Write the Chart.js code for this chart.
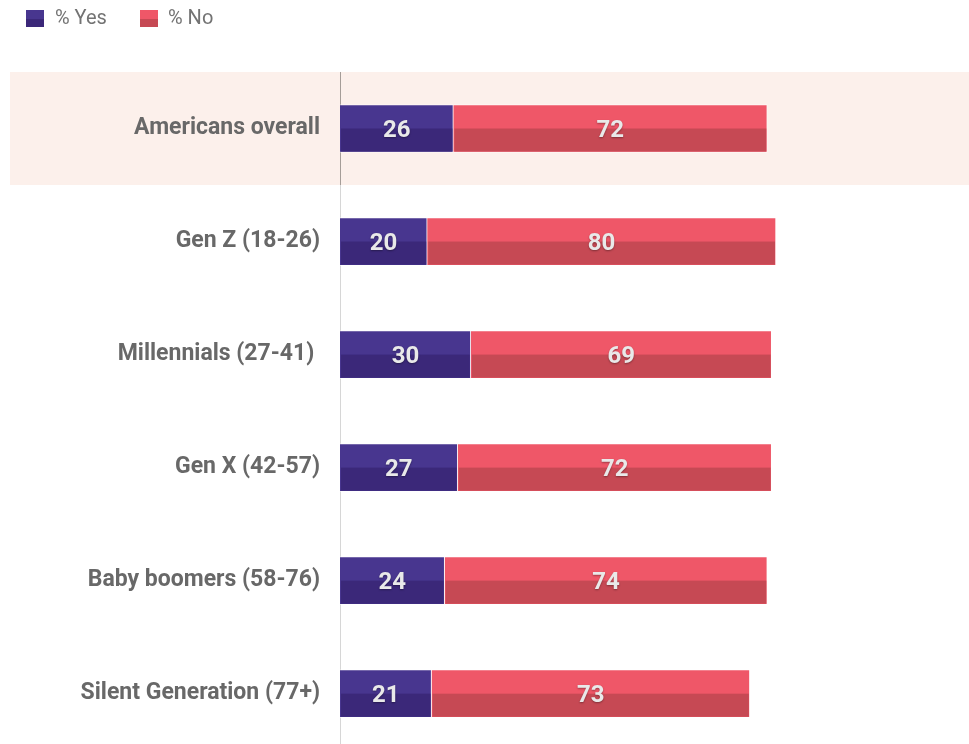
<!DOCTYPE html>
<html>
<head>
<meta charset="utf-8">
<script src="https://cdn.jsdelivr.net/npm/chart.js@4/dist/chart.umd.min.js"></script>
<style>
  html, body { margin: 0; padding: 0; background: #fff; overflow: hidden; }
  canvas { display: block; }
</style>
</head>
<body>
<canvas id="chart" width="969" height="784"></canvas>
<script>
const categories = [
  "Americans overall",
  "Gen Z (18-26)",
  "Millennials (27-41) ",
  "Gen X (42-57)",
  "Baby boomers (58-76)",
  "Silent Generation (77+)"
];
const yesValues = [26, 20, 30, 27, 24, 21];
const noValues = [72, 80, 69, 72, 74, 73];
const seriesLabels = ["% Yes", "% No"];

const topColors = ["#48368f", "#ef5768"];
const bottomColors = ["#3b2879", "#c64954"];

// highlight band behind the first row + the vertical axis line
const backdrop = {
  id: "backdrop",
  beforeDraw(chart) {
    const { ctx, chartArea } = chart;
    const y = chart.scales.y;
    const band = (chartArea.bottom - chartArea.top) / categories.length;
    const c = y.getPixelForValue(0);
    ctx.save();
    ctx.fillStyle = "#fcf0eb";
    ctx.fillRect(10, c - band / 2, chart.width - 10, band);
    ctx.fillStyle = "#a59d98";
    ctx.fillRect(chartArea.left, chartArea.top, 1, band);
    ctx.fillStyle = "#d6d6d6";
    ctx.fillRect(chartArea.left, chartArea.top + band, 1, chartArea.bottom - chartArea.top - band);
    ctx.restore();
  }
};

// darker lower half of each bar, then the value labels
const barShade = {
  id: "barShade",
  afterDatasetsDraw(chart) {
    const { ctx } = chart;
    chart.data.datasets.forEach((ds, i) => {
      const meta = chart.getDatasetMeta(i);
      meta.data.forEach((el, j) => {
        const p = el.getProps(["x", "base", "y", "height"], true);
        const left = Math.min(p.x, p.base), right = Math.max(p.x, p.base);
        ctx.save();
        ctx.fillStyle = bottomColors[i];
        ctx.fillRect(left + 1, p.y, right - left - 2, p.height / 2 - 1);
        ctx.font = "bold 24px Roboto, sans-serif";
        ctx.textAlign = "center";
        ctx.textBaseline = "middle";
        ctx.shadowColor = "rgba(0,0,0,0.35)";
        ctx.shadowBlur = 2;
        ctx.shadowOffsetY = 1;
        ctx.fillStyle = "#e9e9e9";
        ctx.fillText(String(ds.data[j]), (left + right) / 2, p.y + 2);
        ctx.restore();
      });
    });
  }
};

// legend with two-tone swatches
const topLegend = {
  id: "topLegend",
  afterDraw(chart) {
    const { ctx } = chart;
    const xs = [[26, 55], [140, 168]];
    chart.data.datasets.forEach((ds, i) => {
      const [bx, tx] = xs[i];
      ctx.save();
      ctx.fillStyle = topColors[i];
      ctx.fillRect(bx, 10, 18, 9);
      ctx.fillStyle = bottomColors[i];
      ctx.fillRect(bx, 19, 18, 8);
      ctx.font = "20px Roboto, sans-serif";
      ctx.fillStyle = "#737373";
      ctx.textBaseline = "middle";
      ctx.fillText(ds.label, tx, 19);
      ctx.restore();
    });
  }
};

new Chart(document.getElementById("chart"), {
  type: "bar",
  data: {
    labels: categories,
    datasets: [
      {
        label: seriesLabels[0],
        data: yesValues,
        backgroundColor: topColors[0],
        borderColor: "rgba(255,255,255,0.55)",
        borderWidth: 1,
        barThickness: 48
      },
      {
        label: seriesLabels[1],
        data: noValues,
        backgroundColor: topColors[1],
        borderColor: "rgba(255,255,255,0.55)",
        borderWidth: 1,
        barThickness: 48
      }
    ]
  },
  options: {
    indexAxis: "y",
    responsive: false,
    animation: false,
    devicePixelRatio: 1,
    layout: {
      padding: { top: 72, right: 193, bottom: 10, left: 0 }
    },
    plugins: {
      legend: { display: false },
      tooltip: { enabled: false }
    },
    scales: {
      x: {
        stacked: true,
        min: 0,
        max: 100,
        display: false
      },
      y: {
        stacked: true,
        grid: { display: false, drawTicks: false },
        border: { display: false },
        ticks: {
          padding: 20,
          color: "#686868",
          font: { family: "Roboto, sans-serif", size: 23, weight: "bold" }
        },
        afterFit(scale) {
          scale.width = 340;
        }
      }
    }
  },
  plugins: [backdrop, barShade, topLegend]
});
</script>
</body>
</html>
